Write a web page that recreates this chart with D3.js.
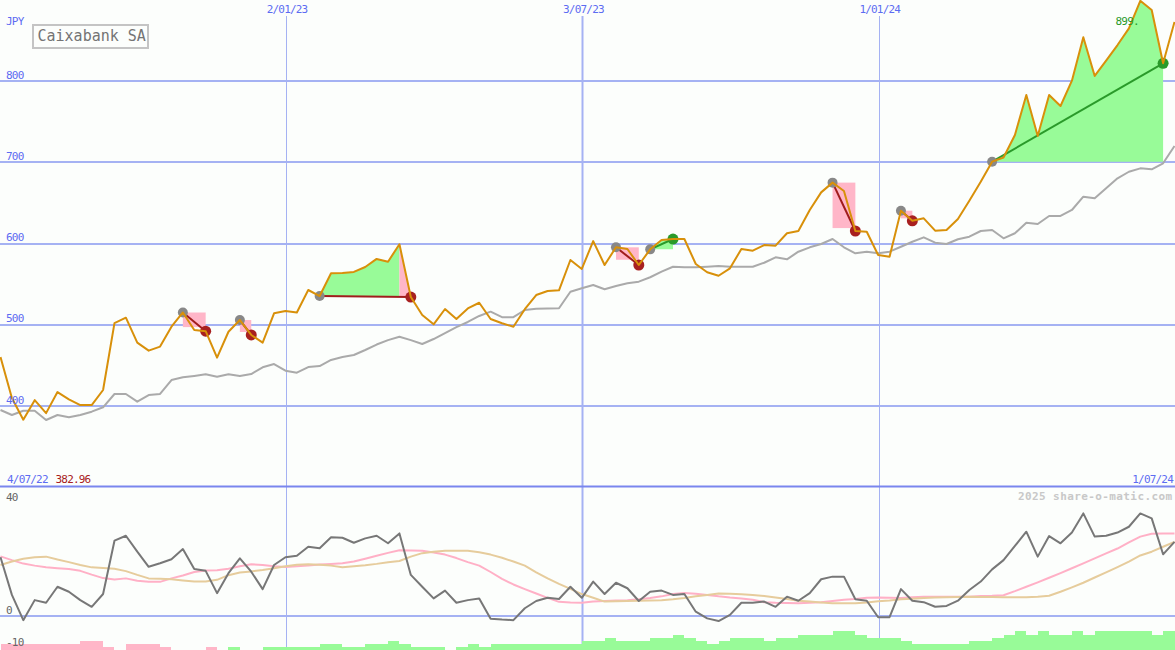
<!DOCTYPE html>
<html><head><meta charset="utf-8">
<script src="https://cdn.jsdelivr.net/npm/d3@7"></script>
<style>
html,body{margin:0;padding:0;background:#fcfefc;}
svg{display:block;}
text{font-family:"DejaVu Sans Mono",monospace;}
.sm{font-size:11px;letter-spacing:-0.8px;}
</style>
</head><body>
<svg id="c" width="1175" height="650"></svg>
<script>
// ---------------- data ----------------
const title = "Caixabank SA";
const currency = "JPY";
const firstLabel = "4/07/22";
const minLabel = "382.96";
const lastLabel = "1/07/24";
const maxLabel = "899.";
const credit = "2025 share-o-matic.com";

// weekly closes (JPY)
const price = [460,409.6,382.96,407,391,417,408,401,401,419.5,
 502,508.6,477.8,468,473,497.5,515,493.4,492,459.3,
 491.3,505.7,487.3,477.8,514,516.8,515,542.7,535.3,563.3,
 563.6,565,571,581,577.6,599,534,512,500.4,519.3,
 507,520,527,507,501.7,497.5,519,536.5,541.5,542.3,
 579.7,568.6,603,573.5,595.3,593.2,573.5,592.8,604.3,605.5,
 605.5,574.7,564.5,560.3,569.4,593.2,591.1,598.1,597.3,612.6,
 615.4,641.3,663,675,664.7,615.4,614.5,585.8,583.7,640.4,
 628,631,615.8,616.6,630.2,652.7,676,700.8,706,733.7,
 783,732.4,783,769.4,800.6,854,806.4,825.2,844.5,865,
 899,887.7,822,873];
// moving average (grey)
const avg = [394.9,388.7,394,394,382.5,388.7,385.9,388.7,392.8,398.2,
 414.6,414.6,405.1,413.3,414.6,431.8,435.1,436.8,438.8,435.9,
 438.8,436.8,439.2,447.5,451.5,443.3,440.8,447.8,449,456.5,
 460.2,462.6,468.8,475.5,481,485.2,481,476.2,482.3,489.7,
 497,503.3,510.7,516,509.2,509.2,518.1,519.7,520,520.2,
 540.6,544.8,548.9,543.6,547.6,551,553,558.4,565.3,571.4,
 570.7,570.7,571.4,572.3,571.4,571.4,571.4,576.3,583,580.5,
 589.9,595.3,599.4,605.5,595.3,587.9,589.9,587.9,589.9,596,
 602.2,607.6,601,599.4,605.2,608.4,615.4,616.6,606.4,612.6,
 625.6,624,633.9,633.9,641.3,657.7,655.7,668,680.3,688.4,
 692.6,691.4,698.8,720.1];
// lower panel oscillator and its two averages
const osc = [20.1,7.1,-1.6,5.3,4.4,9.9,8.2,5.3,3,7.4,
 25.8,27.5,22,16.8,18,19.4,22.9,16,15.4,7.7,
 14.6,19.7,15.1,9.1,17.4,20.1,20.6,23.7,23.2,27,
 26.8,25.1,26.6,27.5,24.9,28.3,14,9.9,5.9,8.6,
 4.4,5.3,5.9,-1.1,-1.4,-1.6,2.5,5,6.1,5.7,
 9.9,6.1,11.7,7.4,11.3,9.4,5,8.2,8.6,7.1,
 7.4,1.3,-1,-1.9,0.2,4.4,4.4,4.8,3,6.5,
 5.1,7.7,12.5,13.4,13.4,5.6,5.1,-0.6,-0.6,9.1,
 5.1,4.6,3,3.3,5.1,8.8,11.7,15.9,19.1,24,
 28.9,20.3,27.4,24.9,28.6,35.2,27.2,27.5,28.6,30.6,
 35.2,33.5,21.1,25.4];
const oscPink = [20.4,19.1,17.9,17.2,16.6,16.3,16,15.4,14.1,12.9,
 12.4,12.8,12,11.6,11.6,12.8,13.8,15,15.5,15.6,
 16.1,17,17.7,17.4,17,16.7,17,17.2,17.6,17.8,
 18,18.6,19.6,20.6,21.6,22.5,22.4,22.3,21.7,21,
 19.8,18.4,17.2,15,12.6,10.7,9.1,7.6,6.1,4.7,
 4.5,4.4,4.8,5,5.2,5.3,5.6,6,6.6,7.4,
 7.8,7.5,7.1,6.6,6.2,5.9,5.4,4.6,4.4,4.3,
 4.2,4.4,4.6,5,5.4,5.7,6.1,6.2,6.1,6,
 6.3,6.5,6.5,6.5,6.5,6.5,6.7,6.8,7,8.4,
 9.9,11.4,13,14.6,16.3,18,19.7,21.4,23.1,25.2,
 27.2,28.2,28.3,28.3];
const oscTan = [17.4,18.6,19.6,20.1,20.3,19.3,18.4,17.4,16.6,16.4,
 16.1,15.3,14,12.8,12.7,12.5,12.1,11.7,11.7,12.3,
 13.9,14.8,15.2,15.7,16.3,17,17.5,17.7,17.5,17.2,
 16.6,17,17.3,17.8,18.4,18.8,20.3,21.5,22,22.3,
 22.3,22.3,21.8,21,19.9,18.6,17.2,14.9,12.8,10.9,
 9.2,7.4,6.1,4.8,4.9,5,5.1,5.2,5.3,5.6,
 6,6.6,7.1,7.6,7.5,7.3,7.1,6.7,6.2,5.7,
 5.1,4.8,4.5,4.2,4.2,4.2,4.5,4.9,5.2,5.6,
 5.8,6,6.2,6.3,6.4,6.5,6.4,6.4,6.3,6.3,
 6.3,6.5,6.8,8.2,9.7,11.3,13.1,14.9,16.7,18.6,
 20.7,22,23.7,25.4];
// histogram strip (signed level)
const strip = [-2,-2,-2,-2,-2,-2,-2,-3,-3,-1,
 0,-2,-2,-2,-1,0,0,0,-1,0,
 1,0,0,1,1,1,1,1,2,2,
 1,1,2,2,3,2,1,1,1,0,
 1,2,1,2,2,2,2,2,2,2,
 2,3,3,4,3,3,3,4,4,5,
 4,3,2,3,4,4,4,3,4,4,
 5,5,5,6,6,5,4,4,4,3,
 2,2,2,2,2,3,3,4,5,6,
 5,6,5,5,6,5,6,6,6,6,
 6,5,6,6];
// trades (week indices)
const tradeEntry = [16,21,28,54,57,73,79,87];
const tradeExit  = [18,22,36,56,59,75,80,102];
const tradePeak  = [16,21,35,54,59,73,79,102];
const tradeStop  = [497,491,null,580,null,619,631,null];

const priceTicks = [400,500,600,700,800];
const lowTicks = [40,0,-10];
const dateTicks = ["2023-01-02","2023-07-03","2024-01-01"];
const dateTickLabels = ["2/01/23","3/07/23","1/01/24"];

// ---------------- drawing ----------------
const W = 1175, H = 650;
const BG = "#fcfefc", GRID = "#a5b2f3", BLUE = "#5c6cf2";
const svg = d3.select("#c");
svg.append("rect").attr("width", W).attr("height", H).attr("fill", BG);

const DAY = 864e5;
const start = Date.UTC(2022, 6, 10);
const dates = price.map((_, i) => new Date(start + i * 7 * DAY));
const x = d3.scaleUtc().domain([dates[0], dates[dates.length - 1]]).range([0.5, 1174.5]);
const y = d3.scaleLinear().domain([300, 900]).range([487, 0]);
const yL = d3.scaleLinear().domain([-10, 40]).range([644.5, 499.5]);
const yB = d3.scaleLinear().domain([0, 6]).range([0, 18.6]);
const xi = i => x(dates[i]);
const idx = d3.range(price.length);

const defs = svg.append("defs");
defs.append("clipPath").attr("id", "cm").append("rect").attr("x", 0).attr("y", 0).attr("width", W).attr("height", 486);
defs.append("clipPath").attr("id", "cl").append("rect").attr("x", 0).attr("y", 488).attr("width", W).attr("height", 162);

// horizontal grid (main)
svg.append("g").selectAll("line").data(priceTicks).join("line")
  .attr("x1", 0).attr("x2", W).attr("y1", d => y(d)).attr("y2", d => y(d))
  .attr("stroke", GRID).attr("stroke-width", 2).attr("shape-rendering", "crispEdges");
// zero line lower
svg.append("line").attr("x1", 0).attr("x2", W).attr("y1", yL(0)).attr("y2", yL(0))
  .attr("stroke", GRID).attr("stroke-width", 2).attr("shape-rendering", "crispEdges");
// vertical grid
const vd = dateTicks.map(s => new Date(s + "T00:00:00Z"));
svg.append("g").selectAll("line").data(vd).join("line")
  .attr("x1", d => Math.round(x(d)) - 0.5).attr("x2", d => Math.round(x(d)) - 0.5)
  .attr("y1", 16).attr("y2", H)
  .attr("stroke", GRID).attr("stroke-width", d => d.getUTCMonth() === 6 ? 2 : 1);

// ---- main panel ----
const main = svg.append("g").attr("clip-path", "url(#cm)");
main.append("path").datum(idx)
  .attr("d", d3.line().x(xi).y(i => y(avg[i])))
  .attr("fill", "none").attr("stroke", "#aaaaaa").attr("stroke-width", 2).attr("stroke-linejoin", "round");

const PINK = "#ffb6c8", LGREEN = "#98fb98";
const tg = main.append("g");
tradeEntry.forEach((e, k) => {
  const ex = tradeExit[k], pk = tradePeak[k], p0 = price[e];
  if (pk > e) {
    tg.append("path").datum(d3.range(e, pk + 1))
      .attr("d", d3.area().x(xi).y0(y(p0)).y1(i => y(price[i])))
      .attr("fill", LGREEN);
  }
  if (pk < ex) {
    if (pk === e) {
      tg.append("rect").attr("x", xi(e)).attr("width", xi(ex) - xi(e))
        .attr("y", y(p0)).attr("height", y(tradeStop[k]) - y(p0)).attr("fill", PINK);
    } else {
      tg.append("path").datum(d3.range(pk, ex + 1))
        .attr("d", d3.area().x(xi).y0(y(p0)).y1(i => y(price[i])))
        .attr("fill", PINK);
    }
  }
});
tradeEntry.forEach((e, k) => {
  const ex = tradeExit[k];
  const gain = price[ex] >= price[e];
  tg.append("line").attr("x1", xi(e)).attr("y1", y(price[e])).attr("x2", xi(ex)).attr("y2", y(price[ex]))
    .attr("stroke", gain ? "#2a9a2a" : "#a01c1c").attr("stroke-width", 2);
  tg.append("circle").attr("cx", xi(e)).attr("cy", y(price[e])).attr("r", 5).attr("fill", "#888888");
  tg.append("circle").attr("cx", xi(ex)).attr("cy", y(price[ex])).attr("r", 5.5).attr("fill", gain ? "#2a9a2a" : "#a82020");
});

main.append("path").datum(idx)
  .attr("d", d3.line().x(xi).y(i => y(price[i])))
  .attr("fill", "none").attr("stroke", "#d8900a").attr("stroke-width", 2).attr("stroke-linejoin", "round");

// ---- lower panel ----
const low = svg.append("g").attr("clip-path", "url(#cl)");
low.append("g").selectAll("rect").data(idx.filter(i => strip[i] !== 0)).join("rect")
  .attr("x", i => xi(i)).attr("width", i => xi(i) + (xi(1) - xi(0)) - xi(i))
  .attr("y", i => H - yB(Math.abs(strip[i]))).attr("height", i => yB(Math.abs(strip[i])))
  .attr("fill", i => strip[i] < 0 ? PINK : LGREEN).attr("shape-rendering", "crispEdges");
low.append("path").datum(idx).attr("d", d3.line().x(xi).y(i => yL(oscPink[i])))
  .attr("fill", "none").attr("stroke", "#ffb0c6").attr("stroke-width", 2).attr("stroke-linejoin", "round");
low.append("path").datum(idx).attr("d", d3.line().x(xi).y(i => yL(oscTan[i])))
  .attr("fill", "none").attr("stroke", "#e6cc9c").attr("stroke-width", 2).attr("stroke-linejoin", "round");
low.append("path").datum(idx).attr("d", d3.line().x(xi).y(i => yL(osc[i])))
  .attr("fill", "none").attr("stroke", "#777777").attr("stroke-width", 2).attr("stroke-linejoin", "round");

// separator
svg.append("line").attr("x1", 0).attr("x2", W).attr("y1", 486.5).attr("y2", 486.5)
  .attr("stroke", "#7a86ee").attr("stroke-width", 2);

// ---- text ----
svg.append("g").selectAll("text").data(priceTicks).join("text").attr("class", "sm")
  .attr("x", 6).attr("y", d => y(d) - 2.3).attr("fill", BLUE).text(d => d);
svg.append("g").selectAll("text").data(vd).join("text").attr("class", "sm")
  .attr("x", d => x(d)).attr("y", 12.7).attr("text-anchor", "middle").attr("fill", BLUE)
  .text((d, i) => dateTickLabels[i]);
svg.append("text").attr("class", "sm").attr("x", 6).attr("y", 24.7).attr("fill", BLUE).text(currency);

const tb = svg.append("g");
tb.append("rect").attr("x", 33).attr("y", 25).attr("width", 115).attr("height", 23)
  .attr("fill", "none").attr("stroke", "#c4c4c4").attr("stroke-width", 2);
tb.append("text").attr("x", 37.5).attr("y", 41).attr("font-size", 15).attr("fill", "#747474").text(title);

const maxI = d3.maxIndex(price);
svg.append("text").attr("class", "sm").attr("x", xi(maxI) - 1.5).attr("y", y(price[maxI]) + 24.5)
  .attr("text-anchor", "end").attr("fill", "#2a9a2a").text(maxLabel);

svg.append("text").attr("class", "sm").attr("x", 7).attr("y", 482.7).attr("fill", BLUE).text(firstLabel);
svg.append("text").attr("class", "sm").attr("x", 55.5).attr("y", 482.7).attr("fill", "#a82020").text(minLabel);
svg.append("text").attr("class", "sm").attr("x", 1173).attr("y", 482.7).attr("text-anchor", "end").attr("fill", BLUE).text(lastLabel);
svg.append("text").attr("x", 1172.5).attr("y", 500).attr("text-anchor", "end")
  .attr("font-size", 11).attr("font-weight", "bold").attr("letter-spacing", "0.4px")
  .attr("fill", "#c8c8c8").text(credit);

const lowDy = {"40": 1, "0": -1.8, "-10": 1.2};
svg.append("g").selectAll("text").data(lowTicks).join("text").attr("class", "sm")
  .attr("x", 6).attr("y", d => yL(d) + lowDy[String(d)]).attr("fill", "#666666").text(d => d);
</script>
</body></html>
